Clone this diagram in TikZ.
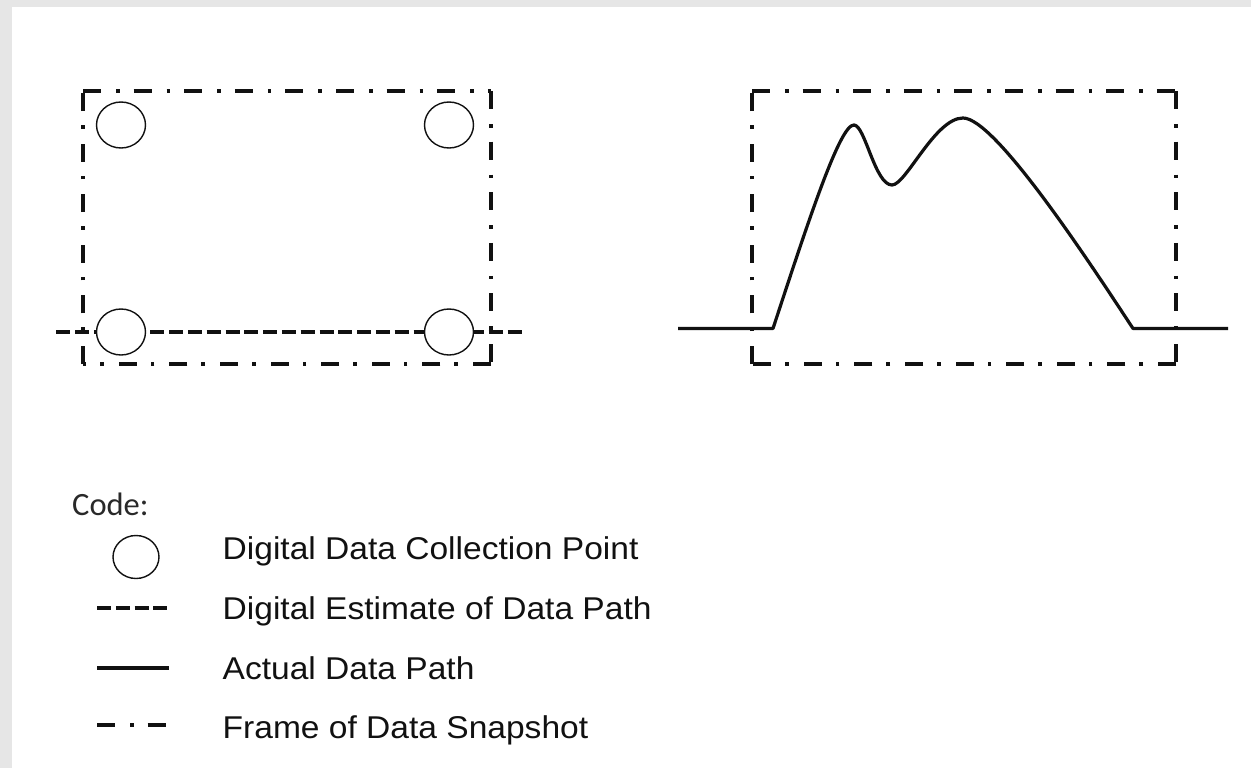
\documentclass[tikz,border=0pt]{standalone}
\usepackage{fontspec}
\setmainfont{Liberation Sans}[FakeStretch=1.065]
\newfontfamily\codefont{Carlito}
\usetikzlibrary{shapes.geometric}
\definecolor{pageedge}{HTML}{E6E6E6}
\definecolor{inkcol}{HTML}{111111}

\begin{document}
\begin{tikzpicture}[x=1pt,y=-1pt,
  snapframe/.style={draw=inkcol, line width=3.8pt, dash pattern=on 18pt off 15pt on 3.6pt off 14pt},
  estimate/.style={draw=inkcol, line width=3.6pt, dash pattern=on 14pt off 4.8pt, dash phase=16.5pt},
  actual/.style={draw=inkcol, line width=3.2pt, line join=round},
  point/.style={ellipse, draw=inkcol, line width=1.4pt, fill=white,
                minimum width=49pt, minimum height=46pt, inner sep=0pt},
  legendtext/.style={anchor=base west, inner sep=0pt, text=inkcol,
                     font=\fontsize{31.5}{36}\selectfont}
]
% page with its shaded top and left edge
\fill[pageedge] (0,0) rectangle (1251,768);
\fill[white] (12,7) rectangle (1251,768);
\useasboundingbox (0,0) rectangle (1251,768);

% ---------- left panel: sampled points ----------
\coordinate (lfA) at (83,91);
\coordinate (lfB) at (491,91);
\coordinate (lfC) at (491,364);
\coordinate (lfD) at (83,364);
\draw[snapframe] (lfA) -- (lfB);
\draw[snapframe] (lfB) -- (lfC);
\draw[snapframe] (lfC) -- (lfD);
\draw[snapframe] (lfD) -- (lfA);

\coordinate (estL) at (54,332);
\coordinate (estR) at (524,332);
\draw[estimate] (estL) -- (estR);

\node[point] (ptTL) at (121,125) {};
\node[point] (ptTR) at (449,125) {};
\node[point] (ptBL) at (121,332) {};
\node[point] (ptBR) at (449,332) {};

% ---------- right panel: continuous signal ----------
\coordinate (rfA) at (752,91);
\coordinate (rfB) at (1176,91);
\coordinate (rfC) at (1176,364);
\coordinate (rfD) at (752,364);
\draw[snapframe] (rfA) -- (rfB);
\draw[snapframe] (rfB) -- (rfC);
\draw[snapframe] (rfC) -- (rfD);
\draw[snapframe] (rfD) -- (rfA);

\coordinate (sigL) at (678,328.5);
\coordinate (rise) at (773,328.5);
\coordinate (peakA) at (854,125);
\coordinate (dip) at (892,185);
\coordinate (peakB) at (963,118);
\coordinate (fall) at (1133,328.5);
\coordinate (sigR) at (1228,328.5);
\draw[actual] (sigL) -- (rise)
  .. controls (808,222) and (840,124) .. (peakA)
  .. controls (865,125) and (875,185) .. (dip)
  .. controls (906,185) and (935,118) .. (peakB)
  .. controls (995,118) and (1088,260) .. (fall)
  -- (sigR);

% ---------- legend ----------
\node[anchor=base west, inner sep=0pt, text=inkcol!90,
      font=\codefont\fontsize{32.5}{38}\selectfont] (code) at (72,515.3) {Code:};

\node[point, minimum width=46pt, minimum height=43pt] (keyPoint) at (136,557) {};
\node[legendtext] (txPoint) at (222.5,559) {Digital Data Collection Point};

\coordinate (keyEstA) at (97,608);
\coordinate (keyEstB) at (167,608);
\draw[estimate, dash phase=0pt] (keyEstA) -- (keyEstB);
\node[legendtext] (txEst) at (222.5,619) {Digital Estimate of Data Path};

\coordinate (keyActA) at (97,668);
\coordinate (keyActB) at (169,668);
\draw[actual, line width=4pt] (keyActA) -- (keyActB);
\node[legendtext] (txAct) at (222.5,679) {Actual Data Path};

\coordinate (keyFrmA) at (97,725);
\coordinate (keyFrmB) at (166,725);
\draw[snapframe] (keyFrmA) -- (keyFrmB);
\node[legendtext] (txFrm) at (222.5,738) {Frame of Data Snapshot};
\end{tikzpicture}
\end{document}
